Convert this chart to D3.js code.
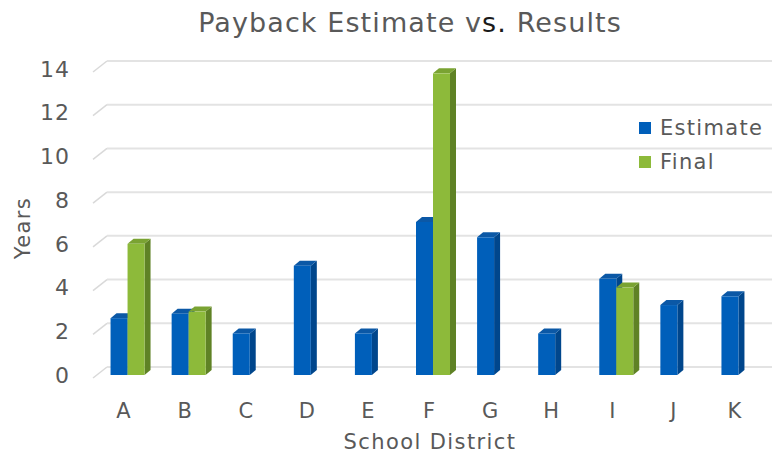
<!DOCTYPE html>
<html><head><meta charset="utf-8">
<script src="https://cdn.jsdelivr.net/npm/d3@7"></script>
<style>body{margin:0;background:#fff}svg{display:block}</style>
</head><body>
<script>
const categories = ["A","B","C","D","E","F","G","H","I","J","K"];
const seriesNames = ["Estimate","Final"];
const estimate = [2.6, 2.8, 1.9, 5.0, 1.9, 7.0, 6.3, 1.9, 4.4, 3.2, 3.6];
const finalVals = [6.0, 2.9, null, null, null, 13.8, null, null, 4.0, null, null];
const yTicks = [0,2,4,6,8,10,12,14];

const W = 772, H = 457;
const font = "'DejaVu Sans', Verdana, sans-serif";
const txt = "#595959";
const svg = d3.select("body").append("svg").attr("width", W).attr("height", H);

const x = d3.scaleBand().domain(categories).range([93, 765]);
const y = d3.scaleLinear().domain([0, 14]).range([378, 72]);
const DX = 14, DY = -11;           // full depth offset
const bx = 4, by = -3;             // bar front face depth shift
const sx = 6, sy = -5;             // bar side depth
const xs = d3.scaleBand().domain(seriesNames).range([0, 34]);

// gridlines (floor diagonal + back wall)
const g = svg.append("g");
yTicks.forEach(t => {
  g.append("line").attr("x1", x.range()[0]).attr("y1", y(t))
    .attr("x2", x.range()[0] + DX).attr("y2", y(t) + DY)
    .attr("stroke", "#d9d9d9").attr("stroke-width", 1.5);
  g.append("line").attr("x1", x.range()[0] + DX).attr("y1", y(t) + DY)
    .attr("x2", W).attr("y2", y(t) + DY)
    .attr("stroke", "#e3e3e3").attr("stroke-width", 2);
});

// y tick labels
svg.append("g").selectAll("text").data(yTicks).join("text")
  .attr("x", 70).attr("y", d => y(d) - 3).attr("dy", "0.35em")
  .attr("text-anchor", "end").attr("font-family", font).attr("font-size", 22)
  .attr("letter-spacing", 1).attr("fill", txt).text(d => d);

// x tick labels
svg.append("g").selectAll("text").data(categories).join("text")
  .attr("x", d => x(d) + x.bandwidth() / 2).attr("y", 418)
  .attr("text-anchor", "middle").attr("font-family", font).attr("font-size", 21)
  .attr("fill", txt).text(d => d);

// bars
const colors = {
  Estimate: {front: "#005FBA", side: "#00468C", top: "#0B58A6"},
  Final: {front: "#8DBA3A", side: "#5F8225", top: "#7AA332"}
};
const data = [];
categories.forEach((c, i) => {
  [["Estimate", estimate[i]], ["Final", finalVals[i]]].forEach(([s, v]) => {
    if (v != null) data.push({c, s, v});
  });
});
const bars = svg.append("g");
data.forEach(d => {
  const x0 = x(d.c) + x.bandwidth() / 2 - 17 + xs(d.s) + bx;
  const x1 = x0 + xs.bandwidth();
  const yt = y(d.v) + by, yb = y(0) + by;
  const col = colors[d.s];
  bars.append("polygon").attr("fill", col.side)
    .attr("points", [[x1, yb], [x1 + sx, yb + sy], [x1 + sx, yt + sy], [x1, yt]].join(" "));
  bars.append("polygon").attr("fill", col.top)
    .attr("points", [[x0, yt], [x0 + sx, yt + sy], [x1 + sx, yt + sy], [x1, yt]].join(" "));
  bars.append("rect").attr("x", x0).attr("y", yt).attr("width", x1 - x0).attr("height", yb - yt)
    .attr("fill", col.front);
});

// title
const title = svg.append("text").attr("x", 410).attr("y", 32).attr("text-anchor", "middle")
  .attr("font-family", font).attr("font-size", 27).attr("letter-spacing", 1.1).attr("fill", txt);
title.append("tspan").text("Payback Estimate v");
title.append("tspan").attr("fill", "#1a1a1a").text("s.");
title.append("tspan").text(" Results");

// axis titles
svg.append("text").attr("x", 430).attr("y", 449).attr("text-anchor", "middle")
  .attr("font-family", font).attr("font-size", 21).attr("letter-spacing", 1.4)
  .attr("fill", txt).text("School District");
svg.append("text").attr("transform", "translate(30,228) rotate(-90)").attr("text-anchor", "middle")
  .attr("font-family", font).attr("font-size", 21).attr("letter-spacing", 1.4)
  .attr("fill", txt).text("Years");

// legend
const leg = svg.append("g");
seriesNames.forEach((s, i) => {
  const cy = 128 + i * 34;
  leg.append("rect").attr("x", 639).attr("y", cy - 6).attr("width", 12).attr("height", 12)
    .attr("fill", colors[s].front);
  leg.append("text").attr("x", 660).attr("y", cy).attr("dy", "0.35em")
    .attr("font-family", font).attr("font-size", 21).attr("letter-spacing", 1.3)
    .attr("fill", txt).text(s);
});
</script>
</body></html>
